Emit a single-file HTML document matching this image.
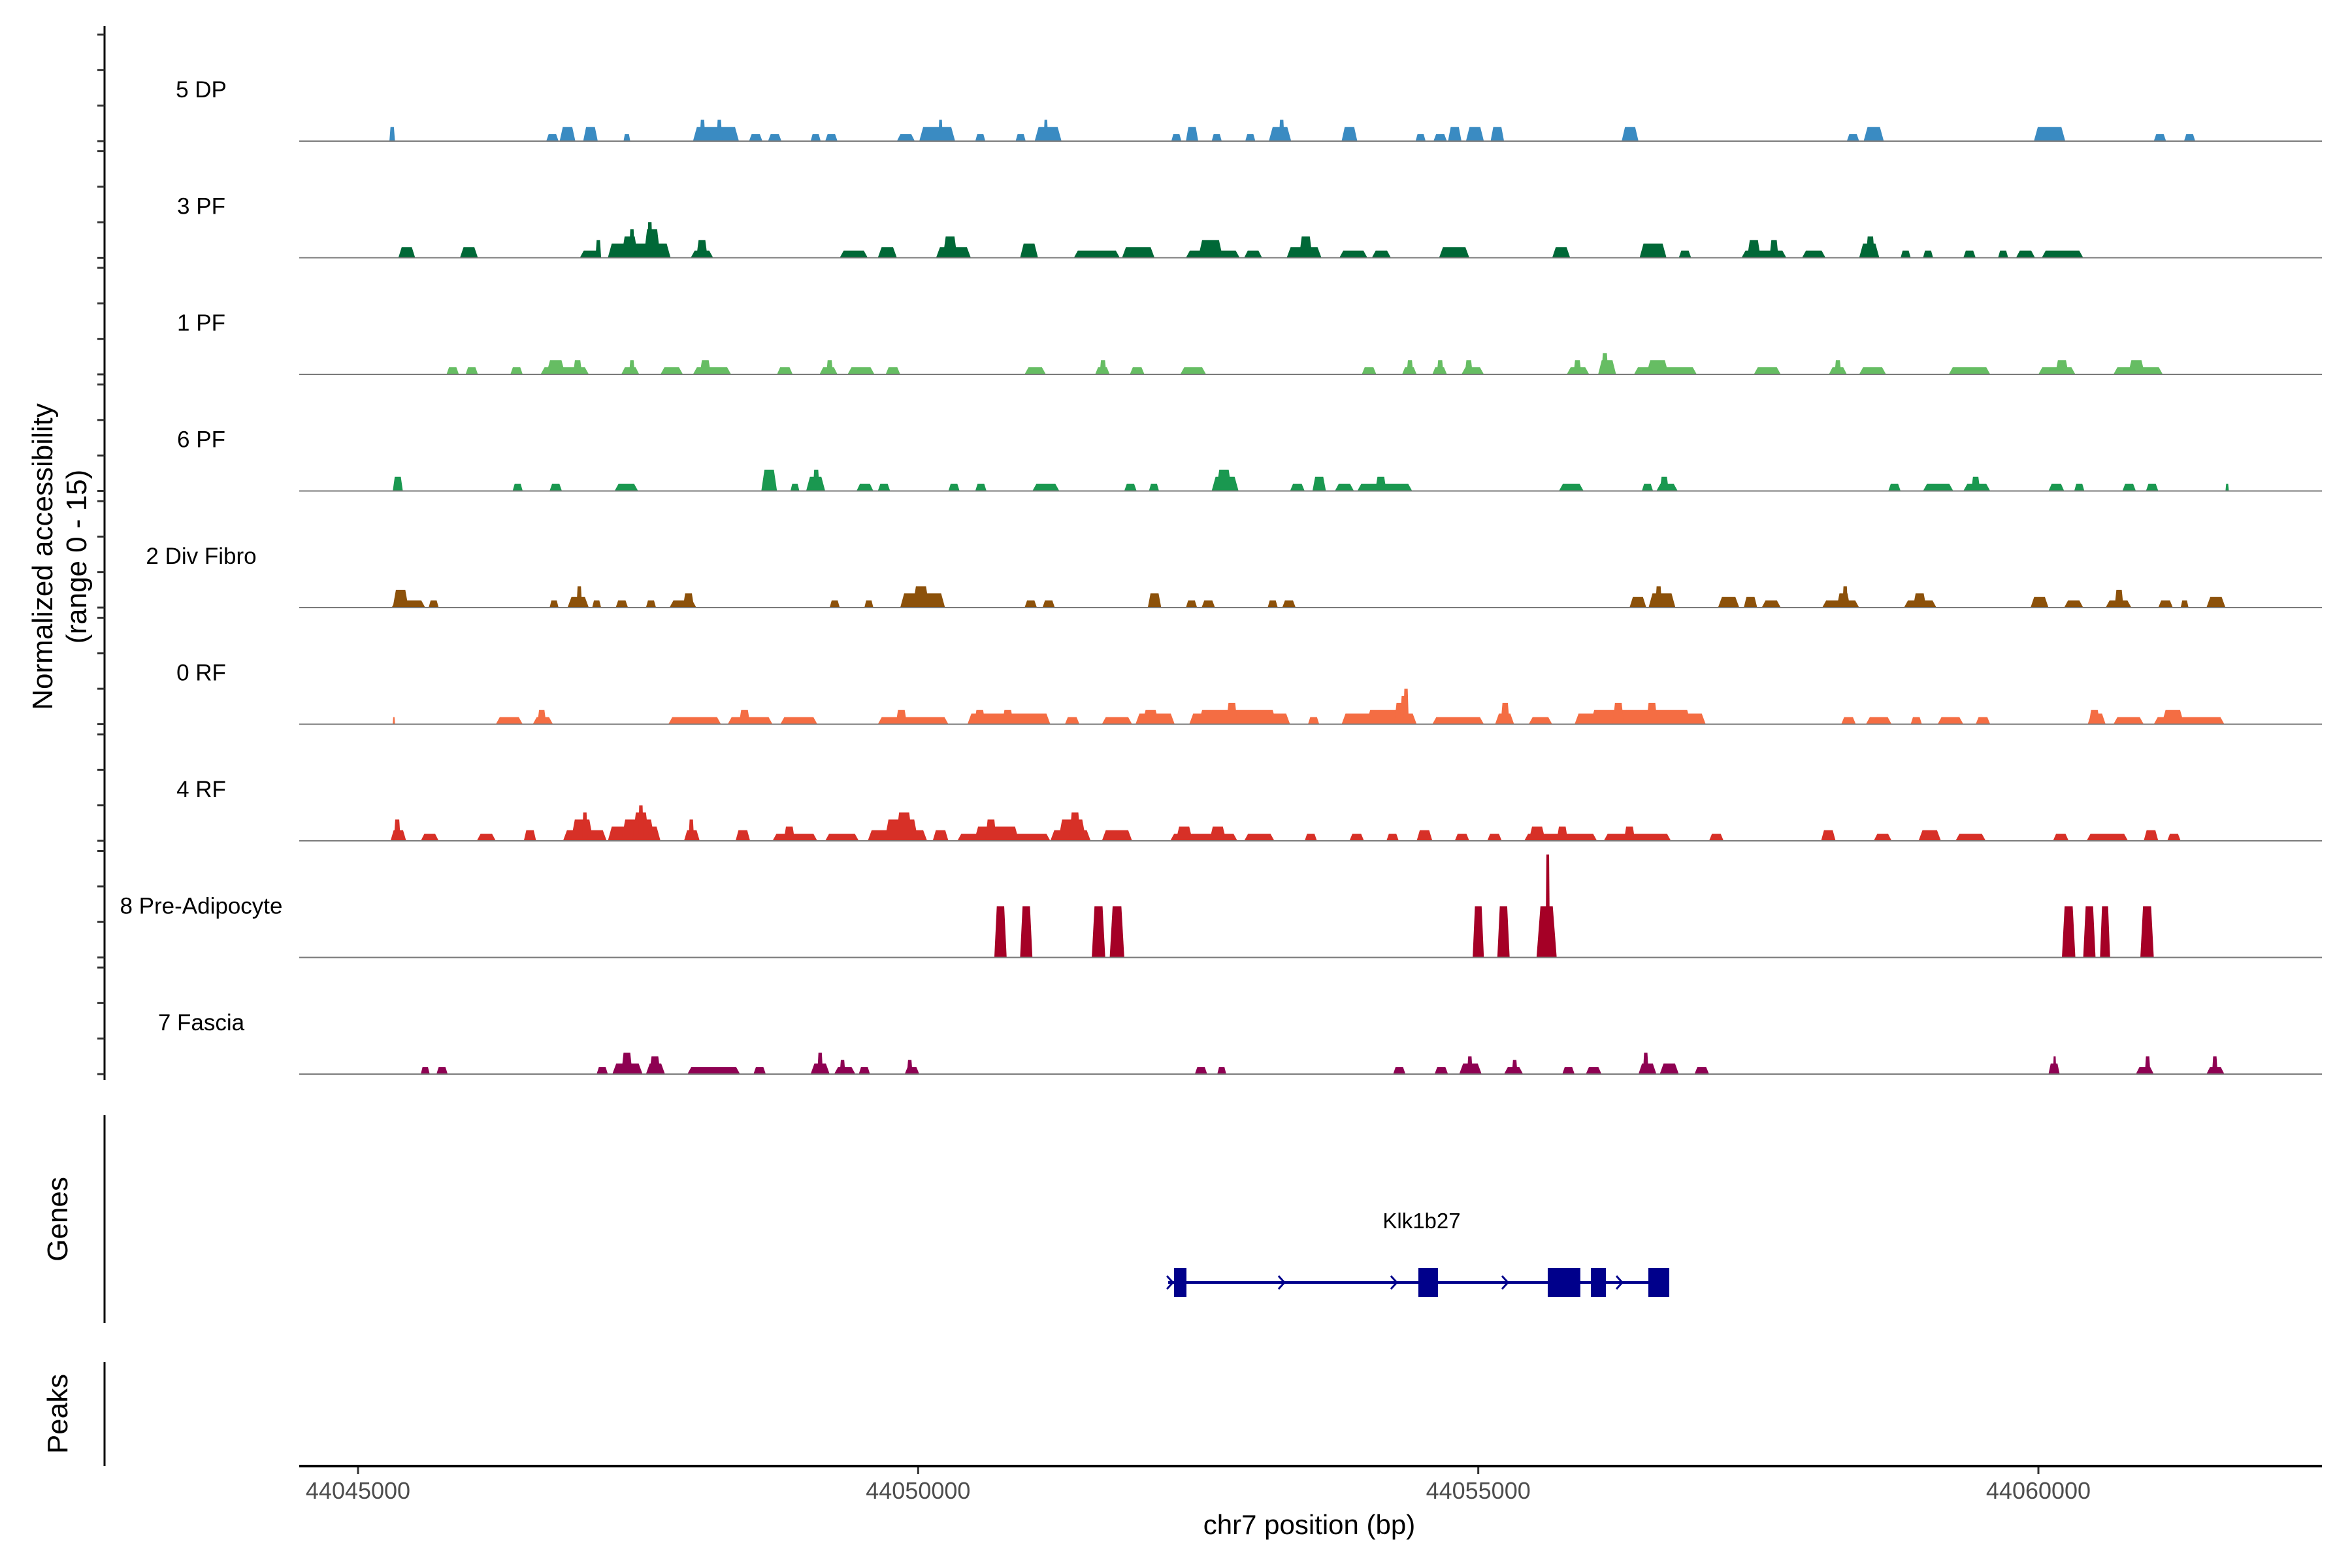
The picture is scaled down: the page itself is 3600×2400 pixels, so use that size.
<!DOCTYPE html>
<html><head><meta charset="utf-8">
<style>
html,body{margin:0;padding:0;background:#fff;}
svg{display:block;font-family:"Liberation Sans",Arial,sans-serif;}
</style></head>
<body>
<svg id="chart" width="3600" height="2400" viewBox="0 0 3600 2400" xmlns="http://www.w3.org/2000/svg">
  <rect x="0" y="0" width="3600" height="2400" fill="#fff"/>
  <g id="tracks"></g>
  <g id="yaxis"></g>
  <text transform="translate(0,852) rotate(-90)" text-anchor="middle" font-size="44" fill="#000"><tspan x="0" y="80">Normalized accessibility</tspan><tspan x="0" y="132">(range 0 - 15)</tspan></text>
  <line x1="160" y1="1707" x2="160" y2="2025" stroke="#000" stroke-width="3"/>
  <text transform="translate(103,1866) rotate(-90)" text-anchor="middle" font-size="44" fill="#000">Genes</text>
  <line x1="160" y1="2085" x2="160" y2="2244" stroke="#000" stroke-width="3"/>
  <text transform="translate(103,2164) rotate(-90)" text-anchor="middle" font-size="44" fill="#000">Peaks</text>
  <g id="gene"></g>
  <line x1="458" y1="2244" x2="3554" y2="2244" stroke="#000" stroke-width="4"/>
  <g id="xaxis"></g>
  <text x="2004" y="2348" text-anchor="middle" font-size="42" fill="#000">chr7 position (bp)</text>
</svg>
<script>
// ---- data ----
const regionStart = 44045000;
const xTicks = [44045000, 44050000, 44055000, 44060000];
const trackNames = ["5 DP","3 PF","1 PF","6 PF","2 Div Fibro","0 RF","4 RF","8 Pre-Adipocyte","7 Fascia"];
const trackColors = ["#3a8bc2","#006837","#66bd63","#1a9850","#8c510a","#f46d43","#d73027","#a50026","#8e0152"];
// peaks: [start kb offset from regionStart, end kb offset, height (0-15 scale)]
const peaksDP5 = [[0.28,0.33,2],[1.68,1.79,1],[1.80,1.94,2],[2.01,2.14,2],[2.37,2.43,1],[2.99,3.40,2],[3.05,3.10,3],[3.20,3.25,3],[3.49,3.61,1],[3.66,3.78,1],[4.04,4.13,1],[4.17,4.28,1],[4.81,4.97,1],[5.01,5.33,2],[5.18,5.22,3],[5.51,5.60,1],[5.87,5.96,1],[6.04,6.28,2],[6.12,6.16,3],[7.26,7.35,1],[7.39,7.50,2],[7.62,7.71,1],[7.92,8.01,1],[8.13,8.33,2],[8.22,8.27,3],[8.78,8.92,2],[9.44,9.53,1],[9.60,9.72,1],[9.73,9.85,2],[9.89,10.05,2],[10.11,10.23,2],[11.28,11.43,2],[13.29,13.40,1],[13.44,13.62,2],[14.96,15.24,2],[16.03,16.14,1],[16.30,16.40,1]];
const peaksPF3 = [[0.36,0.51,1.5],[0.91,1.07,1.5],[1.98,2.17,1],[2.12,2.17,2.5],[2.23,2.79,2],[2.35,2.50,3],[2.42,2.47,4],[2.55,2.70,4],[2.58,2.63,5],[2.97,3.17,1],[3.02,3.12,2.5],[4.30,4.55,1],[4.64,4.81,1.5],[5.16,5.47,1.5],[5.22,5.35,3],[5.91,6.07,2],[6.39,6.80,1],[6.82,7.11,1.5],[7.39,7.87,1],[7.50,7.72,2.5],[7.91,8.07,1],[8.29,8.60,1.5],[8.40,8.52,3],[8.76,9.01,1],[9.05,9.22,1],[9.65,9.92,1.5],[10.66,10.82,1.5],[11.44,11.68,2],[11.79,11.90,1],[12.35,12.75,1],[12.40,12.52,2.5],[12.60,12.68,2.5],[12.89,13.10,1],[13.40,13.58,2],[13.46,13.54,3],[13.77,13.86,1],[13.97,14.06,1],[14.33,14.44,1],[14.64,14.73,1],[14.80,14.97,1],[15.03,15.40,1]];
const peaksPF1 = [[0.79,0.90,1],[0.96,1.07,1],[1.36,1.47,1],[1.63,2.06,1],[1.68,1.85,2],[1.92,2.00,2],[2.35,2.51,1],[2.42,2.47,2],[2.70,2.90,1],[2.99,3.33,1],[3.05,3.15,2],[3.74,3.88,1],[4.12,4.28,1],[4.18,4.24,2],[4.37,4.61,1],[4.71,4.84,1],[5.95,6.14,1],[6.58,6.71,1],[6.62,6.68,2],[6.89,7.02,1],[7.34,7.57,1],[8.96,9.09,1],[9.32,9.45,1],[9.36,9.42,2],[9.59,9.72,1],[9.63,9.69,2],[9.85,10.05,1],[9.88,9.95,2],[10.79,10.99,1],[10.85,10.92,2],[11.07,11.23,2],[11.10,11.16,3],[11.39,11.95,1],[11.50,11.70,2],[12.46,12.70,1],[13.13,13.29,1],[13.18,13.24,2],[13.40,13.64,1],[14.20,14.57,1],[15.00,15.33,1],[15.15,15.27,2],[15.67,16.11,1],[15.80,15.95,2]];
const peaksPF6 = [[0.31,0.40,2],[1.38,1.47,1],[1.71,1.82,1],[2.29,2.50,1],[3.60,3.74,3],[3.86,3.94,1],[4.00,4.17,2],[4.06,4.12,3],[4.45,4.60,1],[4.64,4.75,1],[5.27,5.37,1],[5.51,5.61,1],[6.02,6.26,1],[6.84,6.95,1],[7.06,7.15,1],[7.62,7.86,2],[7.66,7.80,3],[8.32,8.45,1],[8.52,8.64,2],[8.72,8.89,1],[8.92,9.41,1],[9.08,9.18,2],[10.72,10.94,1],[11.46,11.56,1],[11.59,11.78,1],[11.62,11.70,2],[13.66,13.77,1],[13.97,14.24,1],[14.33,14.57,1],[14.40,14.48,2],[15.09,15.23,1],[15.32,15.41,1],[15.75,15.87,1],[15.96,16.07,1],[16.67,16.70,1]];
const peaksDiv2 = [[0.31,0.45,2.5],[0.30,0.60,1],[0.63,0.72,1],[1.71,1.79,1],[1.87,2.06,1.5],[1.95,2.00,3],[2.09,2.17,1],[2.30,2.41,1],[2.57,2.66,1],[2.78,3.02,1],[2.90,3.00,2],[4.21,4.30,1],[4.52,4.60,1],[4.84,5.24,2],[4.95,5.10,3],[5.95,6.06,1],[6.11,6.22,1],[7.05,7.17,2],[7.39,7.49,1],[7.53,7.65,1],[8.12,8.21,1],[8.25,8.37,1],[11.35,11.50,1.5],[11.52,11.76,2],[11.58,11.64,3],[12.14,12.33,1.5],[12.37,12.49,1.5],[12.53,12.70,1],[13.07,13.40,1],[13.20,13.32,2],[13.25,13.30,3],[13.80,14.09,1],[13.88,14.00,2],[14.93,15.09,1.5],[15.23,15.40,1],[15.60,15.83,1],[15.68,15.76,2.5],[16.07,16.20,1],[16.27,16.34,1],[16.50,16.67,1.5]];
const peaksRF0 = [[0.31,0.33,1],[1.23,1.47,1],[1.56,1.74,1],[1.60,1.68,2],[2.77,3.24,1],[3.30,3.70,1],[3.40,3.50,2],[3.77,4.10,1],[4.64,5.27,1],[4.80,4.90,2],[5.44,6.18,1.5],[5.50,5.60,2],[5.75,5.85,2],[6.31,6.44,1],[6.64,6.91,1],[6.94,7.29,1.5],[7.00,7.15,2],[7.42,8.32,1.5],[7.50,8.20,2],[7.75,7.85,3],[8.48,8.58,1],[8.78,9.45,1.5],[9.00,9.40,2],[9.25,9.35,3],[9.30,9.38,4],[9.33,9.38,5],[9.59,10.05,1],[10.15,10.32,1.5],[10.20,10.28,3],[10.45,10.66,1],[10.86,12.03,1.5],[11.00,11.90,2],[11.20,11.30,3],[11.50,11.60,3],[13.24,13.37,1],[13.46,13.69,1],[13.86,13.96,1],[14.10,14.33,1],[14.44,14.57,1],[15.44,15.60,1.5],[15.45,15.55,2],[15.67,15.94,1],[16.03,16.66,1],[16.10,16.30,2]];
const peaksRF4 = [[0.29,0.43,1.5],[0.32,0.38,3],[0.56,0.72,1],[1.06,1.23,1],[1.48,1.59,1.5],[1.83,2.22,1.5],[1.90,2.10,3],[2.00,2.05,4],[2.23,2.70,2],[2.35,2.65,3],[2.45,2.60,4],[2.50,2.55,5],[2.91,3.05,1.5],[2.95,3.00,3],[3.37,3.50,1.5],[3.70,4.10,1],[3.80,3.90,2],[4.17,4.47,1],[4.55,5.08,1.5],[4.70,5.00,3],[4.80,4.95,4],[5.13,5.27,1.5],[5.35,6.18,1],[5.50,5.90,2],[5.60,5.70,3],[6.18,6.54,1.5],[6.25,6.50,3],[6.35,6.45,4],[6.64,6.91,1.5],[7.25,7.85,1],[7.30,7.45,2],[7.60,7.75,2],[7.91,8.18,1],[8.45,8.56,1],[8.85,8.98,1],[9.18,9.29,1],[9.45,9.59,1.5],[9.79,9.92,1],[10.08,10.21,1],[10.41,11.06,1],[10.45,10.60,2],[10.70,10.80,2],[11.12,11.72,1],[11.30,11.40,2],[12.06,12.19,1],[13.06,13.19,1.5],[13.53,13.69,1],[13.93,14.13,1.5],[14.26,14.53,1],[15.13,15.27,1],[15.43,15.80,1],[15.94,16.07,1.5],[16.15,16.27,1]];
const peaksPre8 = [[5.68,5.79,7.2],[5.91,6.02,7.2],[6.55,6.67,7.2],[6.71,6.84,7.2],[9.95,10.05,7.2],[10.17,10.28,7.2],[10.52,10.70,7.2],[10.60,10.64,14.5],[15.21,15.33,7.2],[15.40,15.51,7.2],[15.55,15.64,7.2],[15.91,16.03,7.2]];
const peaksFas7 = [[0.56,0.64,1],[0.70,0.80,1],[2.13,2.23,1],[2.27,2.54,1.5],[2.35,2.45,3],[2.57,2.74,1.5],[2.60,2.70,2.5],[2.94,3.41,1],[3.53,3.64,1],[4.04,4.21,1.5],[4.10,4.15,3],[4.25,4.44,1],[4.30,4.35,2],[4.47,4.57,1],[4.88,5.01,1],[4.90,4.95,2],[7.47,7.58,1],[7.67,7.75,1],[9.24,9.35,1],[9.61,9.73,1],[9.83,10.03,1.5],[9.90,9.95,2.5],[10.23,10.40,1],[10.30,10.35,2],[10.75,10.86,1],[10.96,11.10,1],[11.43,11.59,1.5],[11.47,11.52,3],[11.62,11.79,1.5],[11.93,12.06,1],[15.09,15.19,1.5],[15.13,15.16,2.5],[15.87,16.03,1],[15.95,16.00,2.5],[16.50,16.66,1],[16.55,16.60,2.5]];
const geneLineBp = [44052232, 44056687];
const geneExonStarts = [44052284, 44054465, 44055620, 44056005, 44056518];
const geneExonEnds   = [44052395, 44054640, 44055911, 44056139, 44056705];
const geneArrowBp = [44052250, 44053246, 44054249, 44055241, 44056262];

// ---- layout / scales ----
const NS = "http://www.w3.org/2000/svg";
const xPx0 = 548, pxPerBp = 2572 / 15000;
function xScale(bp){ return xPx0 + (bp - 44045000) * pxPerBp; }
function kbToBp(k){ return regionStart + k * 1000; }
const trackTop0 = 53, trackStep = 178.5, trackH = 163, yMax = 15;
function baseline(i){ return trackTop0 + i * trackStep + trackH; }
function yScale(i, v){ return baseline(i) - v / yMax * trackH; }
function mk(tag, attrs, parent){ const e = document.createElementNS(NS, tag); for (const k in attrs) e.setAttribute(k, attrs[k]); parent.appendChild(e); return e; }

const allPeaks = [peaksDP5, peaksPF3, peaksPF1, peaksPF6, peaksDiv2, peaksRF0, peaksRF4, peaksPre8, peaksFas7];
const tracksG = document.getElementById("tracks");
trackNames.forEach(function(name, i){
  const g = mk("g", {}, tracksG);
  
  
  const lbl = mk("text", {x: 308, y: baseline(i) - 67, "text-anchor": "middle", "font-size": 35, fill: "#000"}, g);
  lbl.textContent = name;
  
  
  allPeaks[i].forEach(function(p){
    const x1 = xScale(kbToBp(p[0])), x2 = xScale(kbToBp(p[1]));
    const yb = baseline(i), yt = yScale(i, p[2]);
    const d = Math.min((x2 - x1) * 0.2, 6);
    const poly = mk("polygon", {points: x1+","+yb+" "+(x1+d)+","+yt+" "+(x2-d)+","+yt+" "+x2+","+yb, fill: trackColors[i]}, g);
    
    
  });
  const bl = mk("line", {x1: 458, y1: baseline(i), x2: 3554, y2: baseline(i), stroke: "#7a7a7a", "stroke-width": 2}, g);
  
  
});

// y axis with ticks at 0,5,10,15 per track
const yG = document.getElementById("yaxis");
const yLine = mk("line", {x1: 160, y1: 40, x2: 160, y2: baseline(8) + 9, stroke: "#000", "stroke-width": 3}, yG);


const yTickVals = [0, 5, 10, 15];
trackNames.forEach(function(n, i){
  yTickVals.forEach(function(v){
    const t = mk("line", {x1: 149, y1: yScale(i, v), x2: 160, y2: yScale(i, v), stroke: "#333", "stroke-width": 3}, yG);
    
    
  });
});

// x axis ticks
const xG = document.getElementById("xaxis");
xTicks.forEach(function(v){
  const x = xScale(v);
  const t = mk("line", {x1: x, y1: 2246, x2: x, y2: 2256, stroke: "#333", "stroke-width": 3}, xG);
  
  
  const l = mk("text", {x: x, y: 2294, "text-anchor": "middle", "font-size": 36, fill: "#4d4d4d"}, xG);
  l.textContent = String(v);
  
  
});

// gene model
const gG = document.getElementById("gene");
const gy = 1963;
const gl = mk("line", {x1: xScale(geneLineBp[0]), y1: gy, x2: xScale(geneLineBp[1]), y2: gy, stroke: "#00008b", "stroke-width": 4}, gG);


geneExonStarts.forEach(function(s, k){
  const x1 = xScale(s), x2 = xScale(geneExonEnds[k]);
  const r = mk("rect", {x: x1, y: gy - 22, width: x2 - x1, height: 44, fill: "#00008b"}, gG);
  
  
});
geneArrowBp.forEach(function(b){
  const x = xScale(b);
  const a = mk("polyline", {points: (x-5)+","+(gy-10)+" "+(x+4)+","+gy+" "+(x-5)+","+(gy+10), fill: "none", stroke: "#00008b", "stroke-width": 3}, gG);
  
  
});
const gt = mk("text", {x: 2176, y: 1880, "text-anchor": "middle", "font-size": 33, fill: "#000"}, gG);
gt.textContent = "Klk1b27";


</script>
</body></html>
